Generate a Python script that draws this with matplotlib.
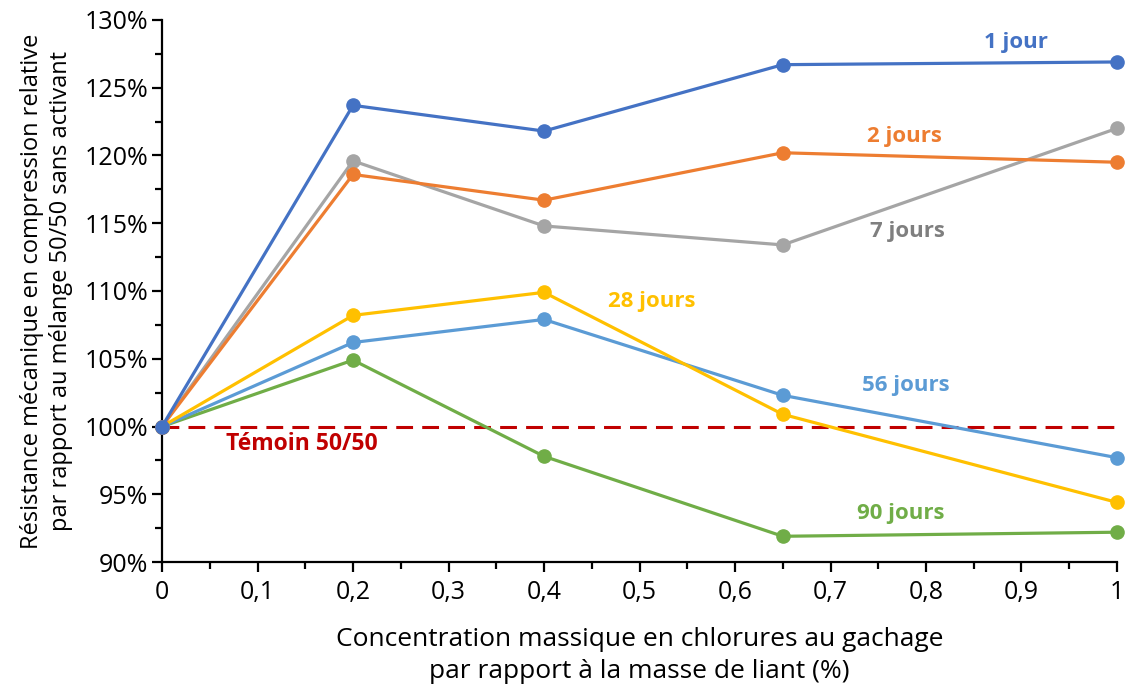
import numpy as np
import matplotlib.pyplot as plt
from matplotlib.ticker import MultipleLocator, FuncFormatter

plt.rcParams['font.family'] = ['Open Sans', 'DejaVu Sans']

# concentration en chlorures (%) et résistances relatives (%)
conc = [0, 0.2, 0.4, 0.65, 1]
r_1j = [100, 123.7, 121.8, 126.7, 126.9]
r_2j = [100, 118.6, 116.7, 120.2, 119.5]
r_7j = [100, 119.6, 114.8, 113.4, 122.0]
r_28j = [100, 108.2, 109.9, 100.9, 94.4]
r_56j = [100, 106.2, 107.9, 102.3, 97.7]
r_90j = [100, 104.9, 97.8, 91.9, 92.2]

noms = ['1 jour', '2 jours', '7 jours', '28 jours', '56 jours', '90 jours']
couleurs = ['#4472C4', '#ED7D31', '#A5A5A5', '#FFC000', '#5B9BD5', '#70AD47']
couleurs_txt = ['#4472C4', '#ED7D31', '#7F7F7F', '#FFC000', '#5B9BD5', '#70AD47']
pos_txt = [(0.894, 128.3), (0.777, 121.4), (0.781, 114.4),
           (0.513, 109.2), (0.779, 103.0), (0.774, 93.55)]
temoin = 100

fig = plt.figure(figsize=(11.26, 6.88), dpi=100)
ax = fig.add_axes([0.1439, 0.1831, 0.8481, 0.7879])

series = [r_1j, r_2j, r_7j, r_28j, r_56j, r_90j]
# tracer du plus récent au plus ancien pour garder 1 jour au-dessus
for s, c in zip(series[::-1], couleurs[::-1]):
    ax.plot(conc, s, color=c, lw=2.3, marker='o', ms=9.5, clip_on=False, zorder=3)

ax.axhline(temoin, color='#C00000', lw=2.2, ls=(0, (5.5, 3)), zorder=2)
ax.text(0.146, 98.7, 'Témoin 50/50', color='#C00000', fontsize=16.5,
        fontweight='bold', ha='center', va='center')

for n, c, (px, py) in zip(noms, couleurs_txt, pos_txt):
    ax.text(px, py, n, color=c, fontsize=16, fontweight='bold',
            ha='center', va='center')

ax.set_xlim(0, 1)
ax.set_ylim(90, 130)
ax.xaxis.set_major_locator(MultipleLocator(0.1))
ax.xaxis.set_minor_locator(MultipleLocator(0.05))
ax.yaxis.set_major_locator(MultipleLocator(5))
ax.yaxis.set_minor_locator(MultipleLocator(2.5))
ax.xaxis.set_major_formatter(FuncFormatter(lambda v, p: ('%g' % round(v, 2)).replace('.', ',')))
ax.yaxis.set_major_formatter(FuncFormatter(lambda v, p: '%d%%' % round(v)))

for side in ['top', 'right']:
    ax.spines[side].set_visible(False)
for side in ['left', 'bottom']:
    ax.spines[side].set_linewidth(1.6)
ax.tick_params(which='major', length=7, width=1.6, labelsize=18)
ax.tick_params(axis='x', which='major', pad=6)
ax.tick_params(axis='y', which='major', pad=3)
ax.tick_params(which='minor', length=5, width=1.6)

ax.set_xlabel('Concentration massique en chlorures au gachage\npar rapport à la masse de liant (%)',
              fontsize=19, labelpad=16, linespacing=1.35)
ax.set_ylabel('Résistance mécanique en compression relative\npar rapport au mélange 50/50 sans activant',
              fontsize=17, labelpad=8, linespacing=1.3)

fig.savefig('out.png', dpi=100)
